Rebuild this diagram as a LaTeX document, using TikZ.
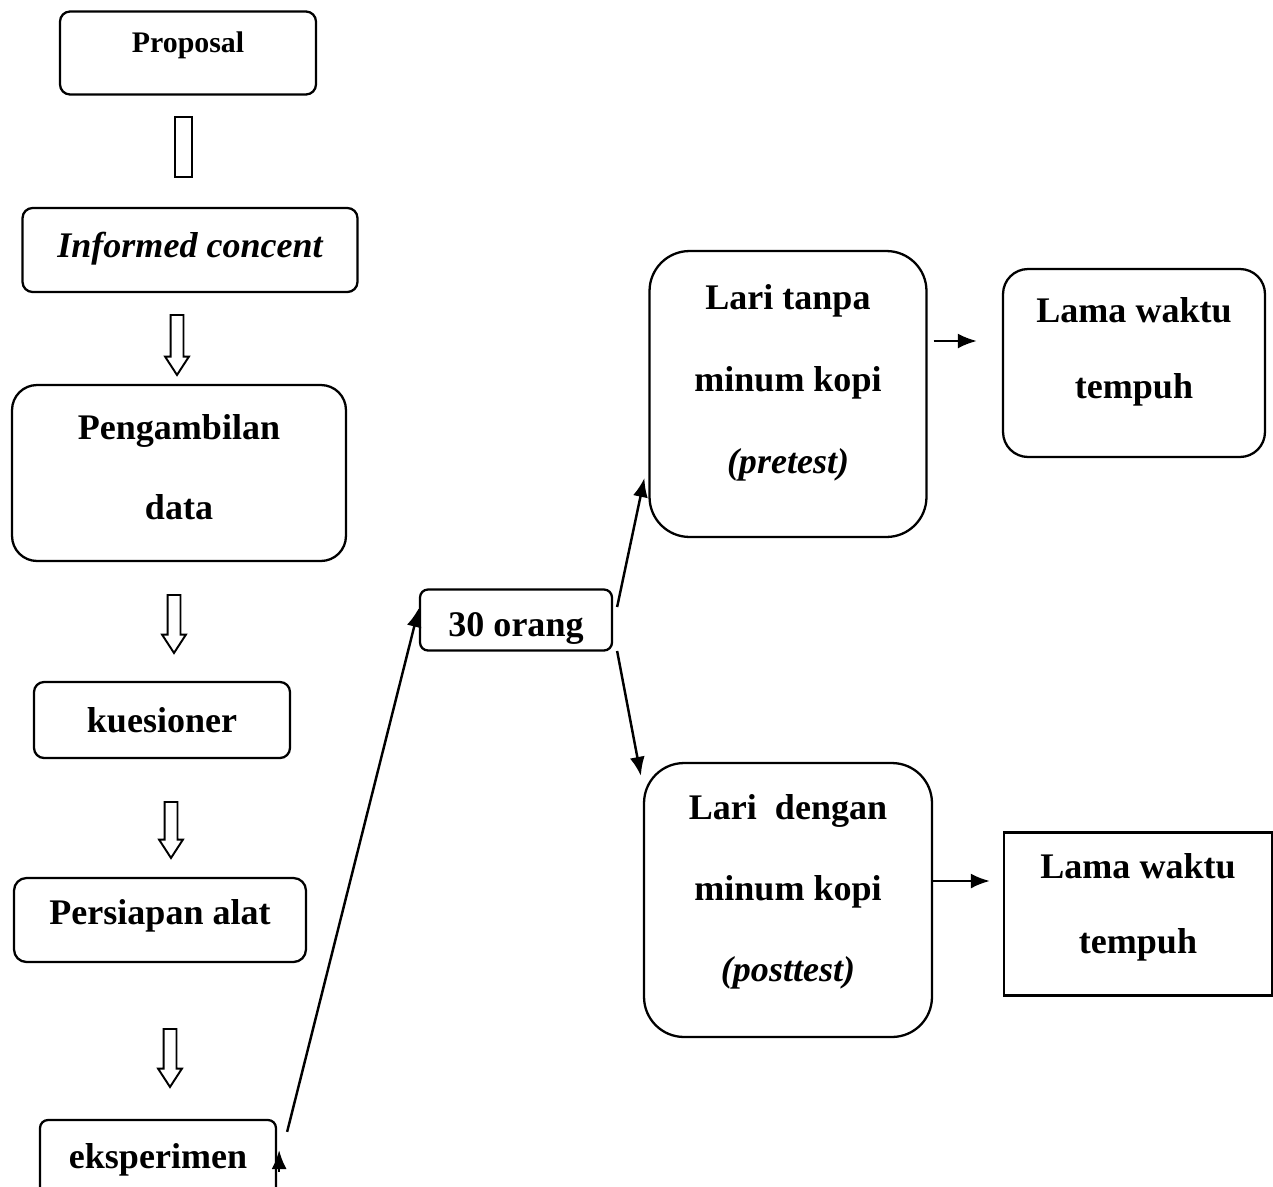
\documentclass[tikz,border=0pt]{standalone}
\usepackage{fontspec}
\setmainfont{Liberation Serif}
\usetikzlibrary{arrows.meta,shapes.arrows}

\tikzset{
  box/.style={rectangle, draw, line width=1.3pt, align=center,
    font=\fontsize{20.5}{45.5}\selectfont\bfseries},
  hollow/.style={single arrow, draw, line width=1.1pt, rotate=-90,
    inner sep=0pt, text height=0.22cm, text depth=0pt, single arrow head extend=0.11cm,
    single arrow tip angle=66},
  conn/.style={-{Latex[length=0.38cm,width=0.3cm]}, line width=1.4pt}
}

\begin{document}
\begin{tikzpicture}[x=0.02cm,y=-0.02cm]
\useasboundingbox (0,0) rectangle (1273,1186);

% left column
\node[box, rounded corners=0.2cm, minimum width=5.12cm, minimum height=1.66cm,
    font=\fontsize{17}{20}\selectfont\bfseries, text depth=12pt] (prop) at (188,53) {Proposal};
\node[box, rounded corners=0.2cm, minimum width=6.7cm, minimum height=1.68cm,
    font=\fontsize{20.5}{24}\selectfont\bfseries\itshape, text depth=6pt] (inf) at (190,250) {Informed concent};
\node[box, rounded corners=0.5cm, minimum width=6.68cm, minimum height=3.52cm,
    text depth=7pt] (peng) at (179,473) {Pengambilan\\data};
\node[box, rounded corners=0.2cm, minimum width=5.12cm, minimum height=1.52cm] (kues) at (162,720) {kuesioner};
\node[box, rounded corners=0.25cm, minimum width=5.84cm, minimum height=1.68cm,
    text depth=9pt] (pers) at (160,920) {Persiapan alat};
\node[box, rounded corners=0.16cm, minimum width=4.72cm, minimum height=1.6cm] (eks) at (158,1160) {eksperimen};

\node[rectangle, draw, line width=1.1pt, minimum width=0.34cm, minimum height=1.2cm] (h1) at (183.5,147) {};
\node[hollow, minimum height=1.2cm] (h2) at (177,340) {};
\node[hollow, minimum height=1.16cm] (h3) at (174,619) {};
\node[hollow, minimum height=1.12cm] (h4) at (171,825) {};
\node[hollow, minimum height=1.16cm] (h5) at (170,1053) {};

% middle and right
\node[box, rounded corners=0.16cm, minimum width=3.84cm, minimum height=1.22cm,
    text height=23pt] (orang) at (516,620) {30 orang};
\node[box, rounded corners=0.8cm, minimum width=5.54cm, minimum height=5.72cm,
    font=\fontsize{20.5}{46.5}\selectfont\bfseries, text depth=17pt] (tanpa) at (788,394)
    {Lari tanpa\\minum kopi\\\textit{(pretest)}};
\node[box, rounded corners=0.5cm, minimum width=5.24cm, minimum height=3.76cm,
    font=\fontsize{20.5}{43.5}\selectfont\bfseries, text depth=17pt] (lama1) at (1134,363)
    {Lama waktu\\tempuh};
\node[box, rounded corners=0.8cm, minimum width=5.76cm, minimum height=5.48cm,
    font=\fontsize{20.5}{46}\selectfont\bfseries, text depth=14pt] (dengan) at (788,900)
    {Lari~ dengan\\minum kopi\\\textit{(posttest)}};
\node[box, minimum width=5.36cm, minimum height=3.26cm,
    font=\fontsize{20.5}{42.5}\selectfont\bfseries, text depth=12pt] (lama2) at (1138,914)
    {Lama waktu\\tempuh};

% connectors
\draw[conn] ([shift={(10,13)}]eks.north east) -- ([shift={(0,-12)}]orang.west);
\draw[conn] ([shift={(2,12)}]eks.east) -- ([shift={(2,-10)}]eks.east);
\draw[conn] ([shift={(4,-13)}]orang.east) -- ([shift={(-4,84)}]tanpa.west);
\draw[conn] ([shift={(4,31)}]orang.east) -- ([shift={(-2,14)}]dengan.north west);
\draw[conn] ([shift={(6,-53)}]tanpa.east) -- ([shift={(-25,-22)}]lama1.west);
\draw[conn] ([shift={(-1,-19)}]dengan.east) -- ([shift={(-13,-33)}]lama2.west);

\end{tikzpicture}
\end{document}
